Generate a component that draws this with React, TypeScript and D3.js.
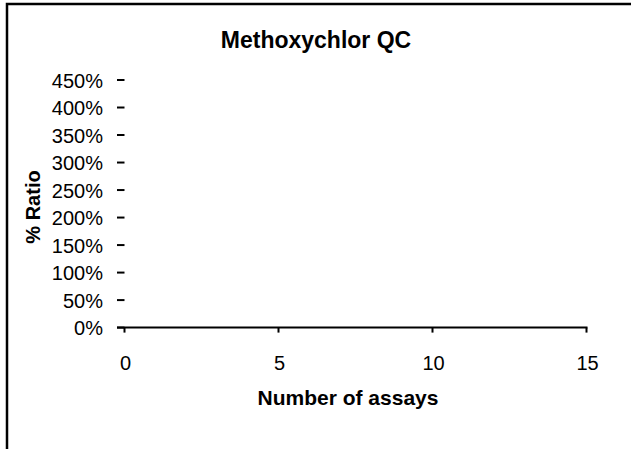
import React from "react";
import * as d3 from "d3";

const title = "Methoxychlor QC";
const xTitle = "Number of assays";
const yTitle = "% Ratio";
const xTicks = [0, 5, 10, 15];
const yTicks = [0, 0.5, 1, 1.5, 2, 2.5, 3, 3.5, 4, 4.5];
const seriesX: number[] = [];
const seriesY: number[] = [];

export default function App() {
  const W = 631, H = 449;
  const x = d3.scaleLinear().domain([0, 15]).range([124.5, 586.5]);
  const y = d3.scaleLinear().domain([0, 4.5]).range([327.6, 80]);
  const fmt = d3.format(".0%");
  const font = "'Liberation Sans', Arial, sans-serif";
  const line = d3.line<number>().x((_, i) => x(seriesX[i])).y((d) => y(d));
  return (
    <svg width={W} height={H} style={{ position: "absolute", left: 0, top: 0, background: "#fff" }} fontFamily={font}>
      <rect x={0} y={0} width={W} height={H} fill="#fff" />
      <path d={`M7,${H + 5}V4H${W + 5}`} fill="none" stroke="#000" strokeWidth={2.5} />
      <text x={316} y={48} textAnchor="middle" fontSize={23} fontWeight="bold">{title}</text>
      {yTicks.map((t) => (
        <g key={t}>
          <line x1={117} x2={124.5} y1={y(t)} y2={y(t)} stroke="#000" strokeWidth={2} />
          <text x={103} y={y(t) + 7.5} textAnchor="end" fontSize={20}>{fmt(t)}</text>
        </g>
      ))}
      <line x1={117} x2={587.5} y1={y(0)} y2={y(0)} stroke="#000" strokeWidth={2} />
      {xTicks.map((t) => (
        <g key={t}>
          <line x1={x(t)} x2={x(t)} y1={y(0)} y2={y(0) + 5} stroke="#000" strokeWidth={2} />
          <text x={x(t) + 1} y={370} textAnchor="middle" fontSize={20}>{t}</text>
        </g>
      ))}
      {seriesY.length > 0 && <path d={line(seriesY) || ""} fill="none" stroke="#000" />}
      <text x={348} y={405} textAnchor="middle" fontSize={21} fontWeight="bold">{xTitle}</text>
      <text transform={`translate(40,207) rotate(-90)`} textAnchor="middle" fontSize={20} fontWeight="bold">{yTitle}</text>
    </svg>
  );
}
